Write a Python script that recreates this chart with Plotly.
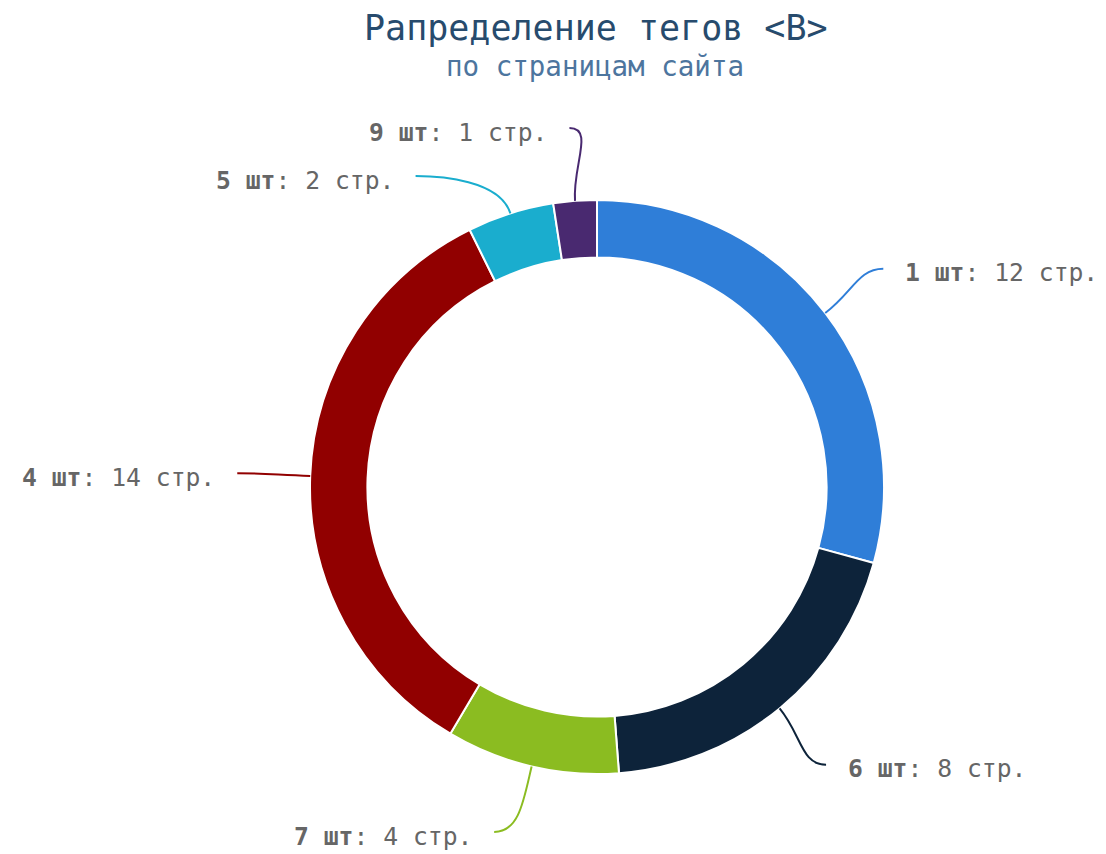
import math
import plotly.graph_objects as go

# ---- data ----
labels = ["1 шт", "6 шт", "7 шт", "4 шт", "5 шт", "9 шт"]
pages = [12, 8, 4, 14, 2, 1]
colors = ["#2f7ed8", "#0d233a", "#8bbc21", "#910000", "#1aadce", "#492970"]
title_text = "Рапределение тегов &lt;B&gt;"
subtitle_text = "по страницам сайта"

W, H = 1106, 854
CX, CY, R = 597, 487, 287
HOLE = 0.80
RC = 360          # radius on which connector ends lie
GAP = 20          # gap between connector end and text
MIN_SEP = 48      # minimum vertical separation between labels on one side
Y_MAX = H - 22    # keep labels inside the chart
FONT = "DejaVu Sans Mono"


def px(x):
    return x / W


def py(y):
    return 1 - y / H


fig = go.Figure(go.Pie(
    labels=labels,
    values=pages,
    sort=False,
    direction="clockwise",
    rotation=0,
    hole=HOLE,
    textinfo="none",
    marker=dict(colors=colors, line=dict(color="#ffffff", width=2)),
    domain=dict(x=[px(CX - R), px(CX + R)], y=[py(CY + R), py(CY - R)]),
    showlegend=False,
))

# label geometry derived from data angles
total = sum(pages)
info = []
cum = 0
for lab, v, col in zip(labels, pages, colors):
    mid = (cum + v / 2) / total * 2 * math.pi
    cum += v
    s, c = math.sin(mid), math.cos(mid)
    side = 1 if s >= 0 else -1
    info.append(dict(lab=lab, v=v, col=col, s=s, c=c, side=side,
                     y=min(CY - RC * c, Y_MAX)))

# simple overlap resolution per side
for side in (1, -1):
    items = sorted([d for d in info if d["side"] == side], key=lambda d: d["y"])
    for i in range(1, len(items)):
        if items[i]["y"] - items[i - 1]["y"] < MIN_SEP:
            items[i]["y"] = items[i - 1]["y"] + MIN_SEP

shapes = []
annotations = []
for d in info:
    dy = d["y"] - CY
    ex = CX + d["side"] * math.sqrt(max(RC ** 2 - dy ** 2, 0))
    ey = d["y"]
    x0, y0 = CX + R * d["s"], CY - R * d["c"]
    x1, y1 = CX + (R + 35) * d["s"], CY - (R + 35) * d["c"]
    x2, y2 = ex - d["side"] * 25, ey
    path = "M {} {} C {} {} {} {} {} {}".format(
        px(x0), py(y0), px(x1), py(y1), px(x2), py(y2), px(ex), py(ey))
    shapes.append(dict(type="path", path=path, xref="paper", yref="paper",
                       line=dict(color=d["col"], width=2), layer="above"))
    annotations.append(dict(
        x=px(ex + d["side"] * GAP), y=py(ey + 4), xref="paper", yref="paper",
        xanchor="left" if d["side"] > 0 else "right", yanchor="middle",
        text="<b>{}</b>: {} стр.".format(d["lab"], d["v"]),
        showarrow=False, font=dict(family=FONT, size=24.7, color="#666666")))

annotations.append(dict(x=px(CX - 1), y=py(28), xref="paper", yref="paper",
                        xanchor="center", yanchor="middle", showarrow=False,
                        text=title_text,
                        font=dict(family=FONT, size=35, color="#274b6d")))
annotations.append(dict(x=px(CX - 2), y=py(66), xref="paper", yref="paper",
                        xanchor="center", yanchor="middle", showarrow=False,
                        text=subtitle_text,
                        font=dict(family=FONT, size=27.5, color="#4d759e")))

fig.update_layout(
    width=W, height=H,
    margin=dict(l=0, r=0, t=0, b=0),
    paper_bgcolor="#ffffff",
    plot_bgcolor="#ffffff",
    shapes=shapes,
    annotations=annotations,
)

fig.write_html("out.html",
               config={"displayModeBar": False},
               post_script="document.body.style.margin='0';"
                           "document.body.style.overflow='hidden';")
